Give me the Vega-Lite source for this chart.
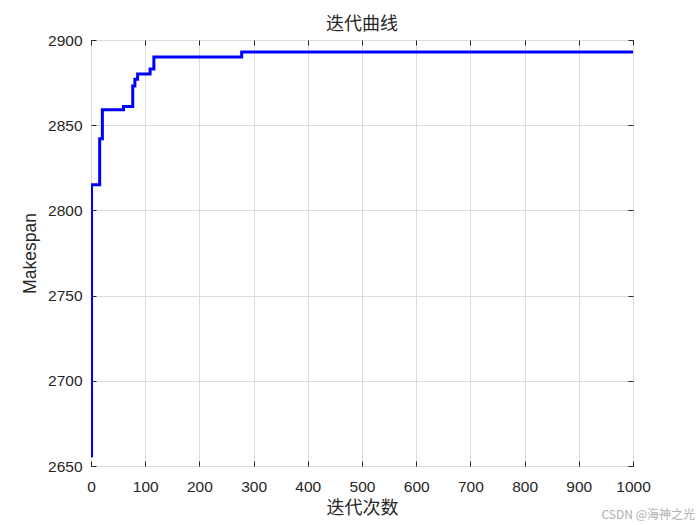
{
  "$schema": "https://vega.github.io/schema/vega-lite/v6.json",
  "autosize": "none",
  "width": 542,
  "height": 426,
  "padding": {"left": 91, "top": 40, "right": 67, "bottom": 59},
  "background": "white",
  "title": {"text": "迭代曲线", "font": "Noto Sans CJK SC", "fontSize": 18, "fontWeight": "normal", "color": "#262626", "offset": -1},
  "config": {
    "view": {"stroke": "#262626", "strokeWidth": 1},
    "axis": {
      "gridColor": "#dcdcdc", "gridWidth": 1,
      "domain": false, "tickColor": "#262626", "tickSize": -5,
      "labelFont": "Liberation Sans", "labelFontSize": 15.5, "labelColor": "#262626", "labelFlush": false,
      "titleFont": "Noto Sans CJK SC", "titleFontSize": 18, "titleFontWeight": "normal", "titleColor": "#262626"
    }
  },
  "resolve": {"axis": {"x": "independent", "y": "independent"}},
  "data": {"values": [
    {"iter": 0, "makespan": 2656},
    {"iter": 1, "makespan": 2815},
    {"iter": 16, "makespan": 2842},
    {"iter": 21, "makespan": 2859},
    {"iter": 60, "makespan": 2861},
    {"iter": 77, "makespan": 2873},
    {"iter": 81, "makespan": 2877},
    {"iter": 86, "makespan": 2880},
    {"iter": 109, "makespan": 2883},
    {"iter": 116, "makespan": 2890},
    {"iter": 278, "makespan": 2893},
    {"iter": 1000, "makespan": 2893}
  ]},
  "layer": [
    {
      "mark": {"type": "line", "interpolate": "step-after", "color": "#0000ff", "strokeWidth": 3, "clip": true},
      "encoding": {
        "x": {"field": "iter", "type": "quantitative", "scale": {"domain": [0, 1000], "nice": false},
          "axis": {"orient": "bottom", "grid": true, "title": "迭代次数", "values": [0,100,200,300,400,500,600,700,800,900,1000], "format": "d", "labelPadding": 18, "titlePadding": 5}},
        "y": {"field": "makespan", "type": "quantitative", "scale": {"domain": [2650, 2900], "nice": false, "zero": false},
          "axis": {"orient": "left", "grid": true, "title": "Makespan", "titleFont": "Liberation Sans", "titleFontSize": 17.5, "values": [2650,2700,2750,2800,2850,2900], "format": "d", "labelPadding": 14, "titlePadding": 8}}
      }
    },
    {
      "mark": {"type": "line", "opacity": 0},
      "encoding": {
        "x": {"field": "iter", "type": "quantitative",
          "axis": {"orient": "top", "title": null, "labels": false, "grid": false, "values": [0,100,200,300,400,500,600,700,800,900,1000]}},
        "y": {"field": "makespan", "type": "quantitative",
          "axis": {"orient": "right", "title": null, "labels": false, "grid": false, "values": [2650,2700,2750,2800,2850,2900]}}
      }
    },
    {
      "data": {"values": [{"label": "CSDN @海神之光"}]},
      "mark": {"type": "text", "font": "Noto Sans CJK SC", "fontSize": 12, "color": "#b0b0b0", "align": "right", "baseline": "bottom", "dx": 62, "dy": 56, "clip": false},
      "encoding": {
        "x": {"datum": 1000, "type": "quantitative", "axis": null},
        "y": {"datum": 2650, "type": "quantitative", "axis": null},
        "text": {"field": "label"}
      }
    }
  ]
}
